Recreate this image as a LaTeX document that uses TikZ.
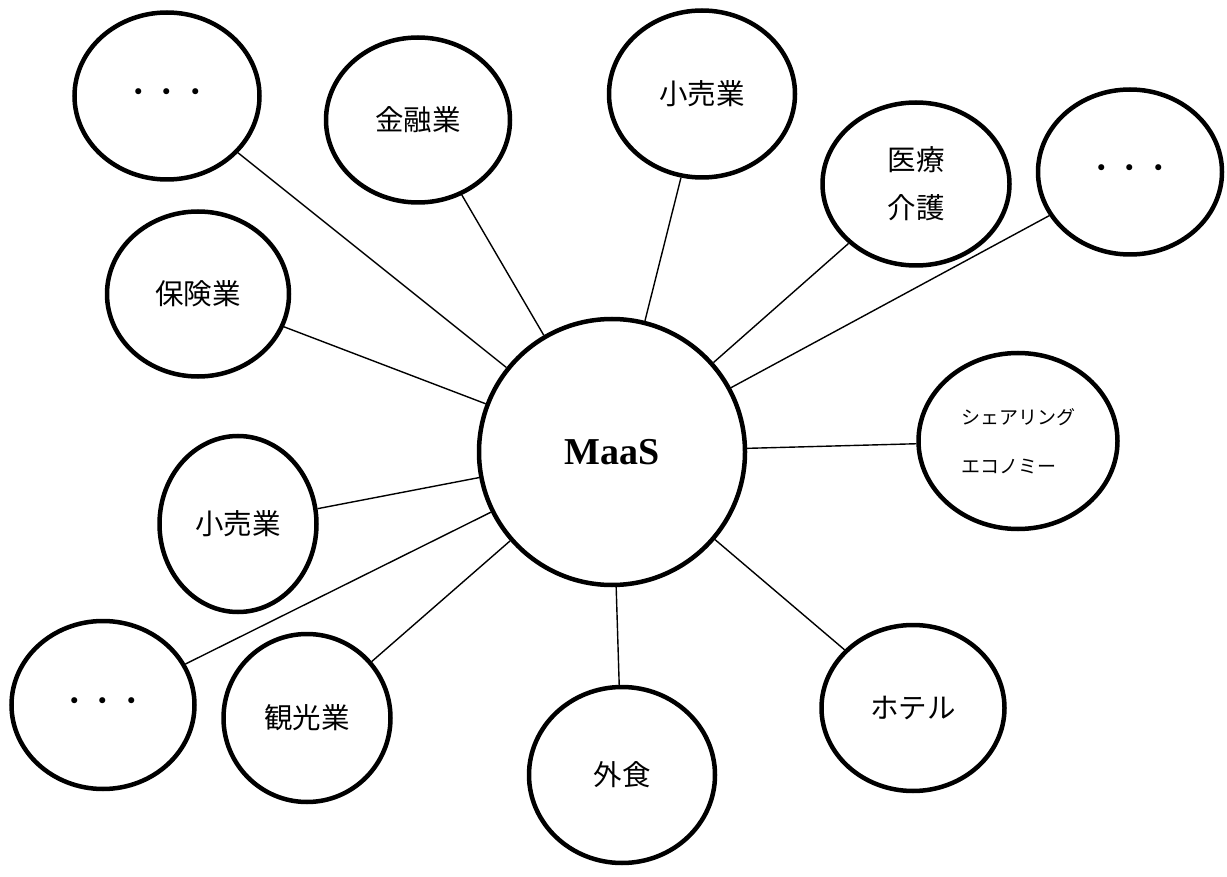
\documentclass[tikz,border=0pt]{standalone}
\usepackage{fontspec}
\usetikzlibrary{shapes.geometric}
\newfontfamily\jp{Noto Sans CJK JP}
\newfontfamily\tnr{Liberation Serif}
\tikzset{
  bub/.style={ellipse, draw, line width=4.5pt, inner sep=0pt, font=\jp\fontsize{28.5}{48}\selectfont, align=center},
  link/.style={line width=1.4pt},
}
\begin{document}
\begin{tikzpicture}[x=1pt,y=-1pt]
\useasboundingbox (0,0) rectangle (1227,877);
\node[bub, circle, minimum size=266pt, font=\tnr\bfseries\fontsize{38}{40}\selectfont] (maas) at (612,452) {MaaS};
\node[bub, minimum width=185pt, minimum height=167pt] (d1) at (167,96) {・・・};
\node[bub, minimum width=184pt, minimum height=165pt] (kin) at (418,120) {金融業};
\node[bub, minimum width=186pt, minimum height=167pt] (kou1) at (702,94) {小売業};
\node[bub, minimum width=187pt, minimum height=163pt] (iryo) at (916,184) {医療\\介護};
\node[bub, minimum width=184pt, minimum height=165pt] (d2) at (1130,172) {・・・};
\node[bub, minimum width=199pt, minimum height=176pt, font=\jp\fontsize{19}{49}\selectfont, align=left] (share) at (1018,441) {シェアリング\\エコノミー};
\node[bub, minimum width=182pt, minimum height=165pt] (hoken) at (198,294) {保険業};
\node[bub, minimum width=157pt, minimum height=176pt] (kou2) at (238,524) {小売業};
\node[bub, minimum width=183pt, minimum height=168pt] (d3) at (103,705) {・・・};
\node[bub, minimum width=167pt, minimum height=168pt] (kanko) at (307,718) {観光業};
\node[bub, minimum width=186pt, minimum height=176pt] (gai) at (622,775) {外食};
\node[bub, minimum width=183pt, minimum height=166pt] (hotel) at (913,708) {ホテル};
\draw[link] (d1) -- (maas);
\draw[link] (kin) -- (maas);
\draw[link] (kou1) -- (maas);
\draw[link] (iryo) -- (maas);
\draw[link] (d2) -- (maas);
\draw[link] (share) -- (maas);
\draw[link] (hoken) -- (maas);
\draw[link] (kou2) -- (maas);
\draw[link] (d3) -- (maas);
\draw[link] (kanko) -- (maas);
\draw[link] (gai) -- (maas);
\draw[link] (hotel) -- (maas);
\end{tikzpicture}
\end{document}
